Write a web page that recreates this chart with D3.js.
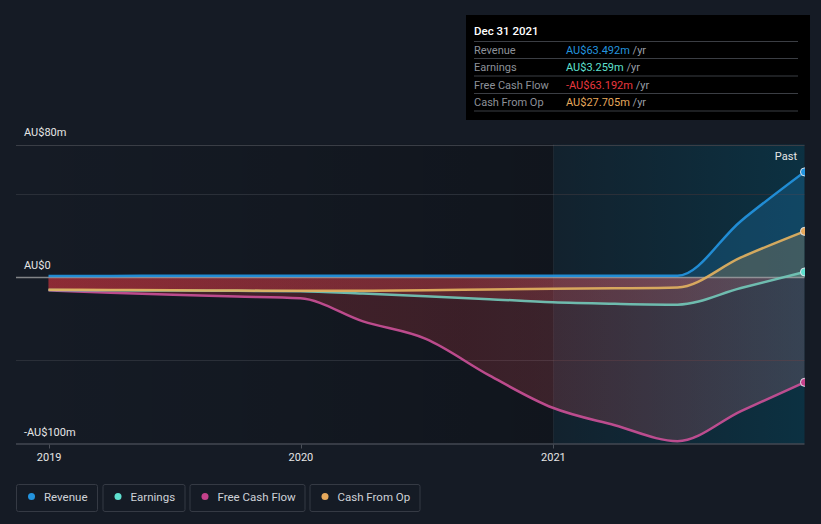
<!DOCTYPE html>
<html>
<head>
<meta charset="utf-8">
<script src="https://cdn.jsdelivr.net/npm/d3@7"></script>
<style>
  html, body { margin: 0; padding: 0; background: #151b25; }
  svg { display: block; font-family: Roboto, "Noto Sans", sans-serif; }
</style>
</head>
<body>
<svg id="chart" width="821" height="524"></svg>
<script>
// ---- data (AU$ millions, trailing twelve months) ----
const dates = ["2018-12-31","2019-03-31","2019-06-30","2019-09-30","2019-12-31","2020-03-31","2020-06-30","2020-09-30","2020-12-31","2021-03-31","2021-06-30","2021-09-30","2021-12-31"];
const revenue      = [0.9, 0.9, 1.0, 1.0, 1.0, 1.0, 1.0, 1.0, 1.0, 1.0, 1.0, 34.0, 63.492];
const earnings     = [-7.6, -7.8, -7.9, -8.1, -8.3, -9.7, -11.3, -13.1, -15.0, -15.9, -16.4, -6.4, 3.259];
const freeCashFlow = [-7.8, -9.3, -10.5, -11.5, -12.6, -26.5, -37.0, -59.0, -78.5, -89.0, -98.6, -80.5, -63.192];
const cashFromOp   = [-7.4, -7.6, -7.8, -7.9, -8.1, -8.0, -7.8, -7.3, -6.9, -6.6, -6.1, 12.0, 27.705];
const seriesNames  = ["Revenue", "Earnings", "Free Cash Flow", "Cash From Op"];
const seriesColors = ["#2394df", "#5fe0cf", "#c4418b", "#e6a95c"];
const lineColors   = ["#2394df", "#72c7b7", "#c94f96", "#e2b160"];
const yTickValues  = [80, 0, -100];
const yTickLabels  = ["AU$80m", "AU$0", "-AU$100m"];
const gridValues   = [80, 50, -50];
const xTickDates   = ["2019-01-01", "2020-01-01", "2021-01-01"];
const xTickLabels  = ["2019", "2020", "2021"];
const tipTitle     = "Dec 31 2021";
const tipValues    = ["AU$63.492m", "AU$3.259m", "-AU$63.192m", "AU$27.705m"];
const tipValueColors = ["#2394df", "#5fe0cf", "#e8383f", "#e6a95c"];
const pastStart    = "2021-01-01";

const parse = d3.utcParse("%Y-%m-%d");
const X = dates.map(parse);
const all = [revenue, earnings, freeCashFlow, cashFromOp];

const svg = d3.select("#chart");
const W = 821, H = 524;
const plotL = 16, plotR = 804.5, plotT = 144.5, plotB = 443.5;

const x = d3.scaleUtc().domain([parse("2019-01-01"), parse("2021-01-01")]).range([49.2, 553.4]);
const y = d3.scaleLinear().domain([-100, 80]).range([plotB, plotT]);

const defs = svg.append("defs");

// backgrounds
svg.append("rect").attr("width", W).attr("height", H).attr("fill", "#151b25");
const gDark = defs.append("linearGradient").attr("id", "gDark").attr("gradientUnits", "userSpaceOnUse")
  .attr("x1", plotL).attr("x2", x(parse(pastStart))).attr("y1", 0).attr("y2", 0);
gDark.append("stop").attr("offset", 0).attr("stop-color", "#000").attr("stop-opacity", 0.0);
gDark.append("stop").attr("offset", 1).attr("stop-color", "#000").attr("stop-opacity", 0.22);
svg.append("rect").attr("x", plotL).attr("y", plotT).attr("width", x(parse(pastStart)) - plotL)
  .attr("height", plotB - plotT).attr("fill", "url(#gDark)");

const gPast = defs.append("linearGradient").attr("id", "gPast").attr("gradientUnits", "userSpaceOnUse")
  .attr("x1", x(parse(pastStart))).attr("x2", plotR).attr("y1", 0).attr("y2", 0);
gPast.append("stop").attr("offset", 0).attr("stop-color", "#004b64").attr("stop-opacity", 0.14);
gPast.append("stop").attr("offset", 1).attr("stop-color", "#004b64").attr("stop-opacity", 0.45);
svg.append("rect").attr("x", x(parse(pastStart))).attr("y", plotT)
  .attr("width", plotR - x(parse(pastStart))).attr("height", plotB - plotT).attr("fill", "url(#gPast)");

// grid
svg.append("g").selectAll("line").data(gridValues).join("line")
  .attr("x1", plotL).attr("x2", plotR)
  .attr("y1", d => Math.round(y(d)) + 0.5).attr("y2", d => Math.round(y(d)) + 0.5)
  .attr("stroke", (d, i) => i === 0 ? "#3a3e46" : "#2a2f38").attr("stroke-width", 1);

// past divider
svg.append("line").attr("x1", Math.round(x(parse(pastStart))) + 0.5).attr("x2", Math.round(x(parse(pastStart))) + 0.5)
  .attr("y1", plotT).attr("y2", plotB).attr("stroke", "#ffffff").attr("stroke-opacity", 0.05);

// clips
defs.append("clipPath").attr("id", "clipPos").append("rect")
  .attr("x", 0).attr("y", 0).attr("width", W).attr("height", y(0));
defs.append("clipPath").attr("id", "clipNeg").append("rect")
  .attr("x", 0).attr("y", y(0)).attr("width", W).attr("height", H - y(0));
defs.append("clipPath").attr("id", "clipPlot").append("rect")
  .attr("x", 0).attr("y", 0).attr("width", plotR + 0.5).attr("height", H);

const gNeg = defs.append("linearGradient").attr("id", "gNeg").attr("gradientUnits", "userSpaceOnUse")
  .attr("x1", x(X[0])).attr("x2", plotR).attr("y1", 0).attr("y2", 0);
gNeg.append("stop").attr("offset", 0).attr("stop-color", "rgb(212,52,62)").attr("stop-opacity", 0.28);
gNeg.append("stop").attr("offset", 0.55).attr("stop-color", "rgb(190,60,70)").attr("stop-opacity", 0.24);
gNeg.append("stop").attr("offset", 1).attr("stop-color", "rgb(165,115,130)").attr("stop-opacity", 0.28);

const area = d3.area().x((d, i) => x(X[i])).y0(y(0)).y1(d => y(d)).curve(d3.curveMonotoneX);
const line = d3.line().x((d, i) => x(X[i])).y(d => y(d)).curve(d3.curveMonotoneX);

const gAreas = svg.append("g");
all.forEach((s, k) => {
  gAreas.append("path").attr("d", area(s)).attr("fill", seriesColors[k]).attr("fill-opacity", 0.22)
    .attr("clip-path", "url(#clipPos)");
  gAreas.append("path").attr("d", area(s)).attr("fill", "url(#gNeg)")
    .attr("clip-path", "url(#clipNeg)");
});

// zero line
svg.append("line").attr("x1", plotL).attr("x2", plotR).attr("y1", y(0)).attr("y2", y(0))
  .attr("stroke", "#b0b0b0").attr("stroke-opacity", 0.7).attr("stroke-width", 1.5);

// bottom axis line
svg.append("line").attr("x1", plotL).attr("x2", plotR).attr("y1", plotB + 0.5).attr("y2", plotB + 0.5)
  .attr("stroke", "#5a5f68").attr("stroke-width", 1);

// lines: draw order fcf, earnings, cash, revenue
const gLines = svg.append("g").attr("clip-path", "url(#clipPlot)");
[2, 1, 3, 0].forEach(k => {
  gLines.append("path").attr("d", line(all[k])).attr("fill", "none")
    .attr("stroke", lineColors[k]).attr("stroke-width", 2.5).attr("stroke-opacity", 0.92);
});
// end dots (clipped at plot edge)
all.forEach((s, k) => {
  gLines.append("circle").attr("cx", x(X[X.length - 1])).attr("cy", y(s[s.length - 1])).attr("r", 4)
    .attr("fill", seriesColors[k]).attr("stroke", "#dfe3ea").attr("stroke-width", 1);
});

// x axis ticks + labels
const xt = svg.append("g");
xTickDates.forEach((d, i) => {
  const px = Math.round(x(parse(d))) + 0.5;
  xt.append("line").attr("x1", px).attr("x2", px).attr("y1", plotB + 1).attr("y2", plotB + 5)
    .attr("stroke", "#4a4f58");
  xt.append("text").attr("x", x(parse(d))).attr("y", 461).attr("text-anchor", "middle")
    .attr("fill", "#e6e6e6").attr("font-size", 11).text(xTickLabels[i]);
});

// y labels
const ylabY = [136, 269, 436];
yTickValues.forEach((v, i) => {
  svg.append("text").attr("x", 24).attr("y", ylabY[i]).attr("fill", "#e6e6e6")
    .attr("font-size", 11).text(yTickLabels[i]);
});

// Past label
svg.append("text").attr("x", 797).attr("y", 160).attr("text-anchor", "end")
  .attr("fill", "#e6e6e6").attr("font-size", 11).text("Past");

// tooltip
const tip = svg.append("g");
tip.append("rect").attr("x", 466).attr("y", 15).attr("width", 344).attr("height", 105).attr("fill", "#000");
tip.append("text").attr("x", 474).attr("y", 35).attr("fill", "#ffffff").attr("font-size", 11.5)
  .attr("font-weight", 500).text(tipTitle);
const sepY = [41.5, 58.5, 76, 93.5, 111];
sepY.forEach(sy => tip.append("line").attr("x1", 474).attr("x2", 798).attr("y1", sy).attr("y2", sy)
  .attr("stroke", "#3b3e44").attr("stroke-width", 1));
seriesNames.forEach((n, i) => {
  const by = 53.5 + i * 17.5;
  tip.append("text").attr("x", 474).attr("y", by).attr("fill", "#8d9199").attr("font-size", 11).text(n);
  const t = tip.append("text").attr("x", 566).attr("y", by).attr("font-size", 11);
  t.append("tspan").attr("fill", tipValueColors[i]).text(tipValues[i]);
  t.append("tspan").attr("fill", "#9a9ea6").text(" /yr");
});

// legend
const legX = [16, 102.5, 189.5, 309.5];
const legW = [81, 82, 115, 110];
seriesNames.forEach((n, i) => {
  const g = svg.append("g").attr("transform", `translate(${legX[i]},484)`);
  g.append("rect").attr("x", 0.5).attr("y", 0.5).attr("width", legW[i]).attr("height", 27).attr("rx", 2)
    .attr("fill", "none").attr("stroke", "#353a44");
  g.append("circle").attr("cx", 15.5).attr("cy", 12.5).attr("r", 3.5).attr("fill", seriesColors[i]);
  g.append("text").attr("x", 28).attr("y", 16.5).attr("fill", "#cfd2d8").attr("font-size", 11.5).text(n);
});
</script>
</body>
</html>
